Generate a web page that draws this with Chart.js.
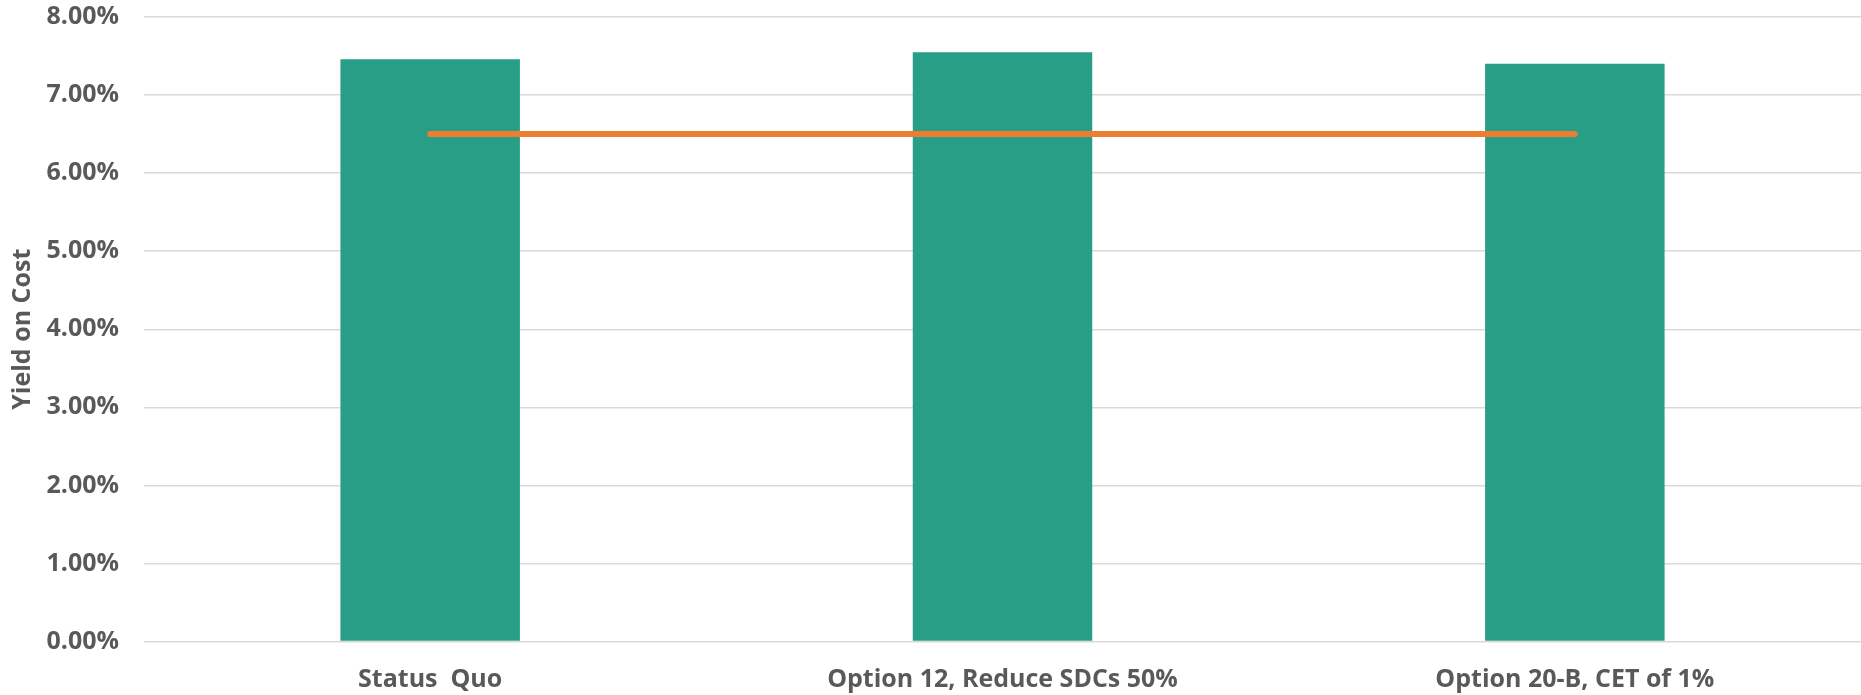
<!DOCTYPE html>
<html>
<head>
<meta charset="utf-8">
<title>Yield on Cost</title>
<script src="https://cdn.jsdelivr.net/npm/chart.js@4/dist/chart.umd.min.js"></script>
<style>
  html, body { margin: 0; padding: 0; background: #ffffff; }
  #wrap { width: 1861px; height: 695px; position: relative; }
</style>
</head>
<body>
<div id="wrap"><canvas id="chart"></canvas></div>
<script>
// Scenarios compared
const categories = ['Status  Quo', 'Option 12, Reduce SDCs 50%', 'Option 20-B, CET of 1%'];
// Yield on cost for each scenario (percent)
const yieldValues = [7.46, 7.55, 7.40];
// Target yield reference line (percent)
const targetValues = [6.50, 6.50, 6.50];
// Y axis range and step (percent)
const yMin = 0;
const yMax = 8;
const yStep = 1;

const textColor = '#595959';
const gridColor = '#d9d9d9';
const fontFamily = '"Open Sans", "Liberation Sans", sans-serif';

new Chart(document.getElementById('chart'), {
  type: 'bar',
  data: {
    labels: categories,
    datasets: [
      {
        type: 'line',
        label: 'Target',
        data: targetValues,
        borderColor: '#ed7d31',
        backgroundColor: '#ed7d31',
        borderWidth: 6,
        borderCapStyle: 'round',
        pointRadius: 0,
        pointHoverRadius: 0,
        tension: 0,
        order: 0
      },
      {
        type: 'bar',
        label: 'Yield on Cost',
        data: yieldValues,
        backgroundColor: '#299e87',
        borderWidth: 0,
        categoryPercentage: 1.0,
        barPercentage: 0.3136,
        order: 1
      }
    ]
  },
  options: {
    responsive: true,
    maintainAspectRatio: false,
    animation: false,
    layout: { padding: { top: 17, right: 0, bottom: 0, left: 0 } },
    plugins: {
      legend: { display: false },
      tooltip: { enabled: false }
    },
    scales: {
      x: {
        grid: { display: false, drawTicks: false },
        border: { display: false },
        ticks: {
          color: textColor,
          font: { family: fontFamily, size: 25, weight: 'bold' },
          padding: 23,
          maxRotation: 0,
          autoSkip: false
        },
        afterFit(scale) {
          scale.height = 53.5;
          scale.paddingLeft = 0;
          scale.paddingRight = 0;
        }
      },
      y: {
        min: yMin,
        max: yMax,
        grid: { color: gridColor, lineWidth: 1.5, drawTicks: false },
        border: { display: false },
        ticks: {
          stepSize: yStep,
          color: textColor,
          font: { family: fontFamily, size: 25, weight: 'bold' },
          padding: 25,
          callback: (v) => v.toFixed(2) + '%'
        },
        title: {
          display: true,
          text: 'Yield on Cost',
          color: textColor,
          font: { family: fontFamily, size: 25, weight: 'bold' },
          padding: { top: 8, bottom: 0 }
        },
        afterFit(scale) {
          scale.width = 144;
          scale.paddingTop = 0;
          scale.paddingBottom = 0;
        }
      }
    }
  }
});
</script>
</body>
</html>
